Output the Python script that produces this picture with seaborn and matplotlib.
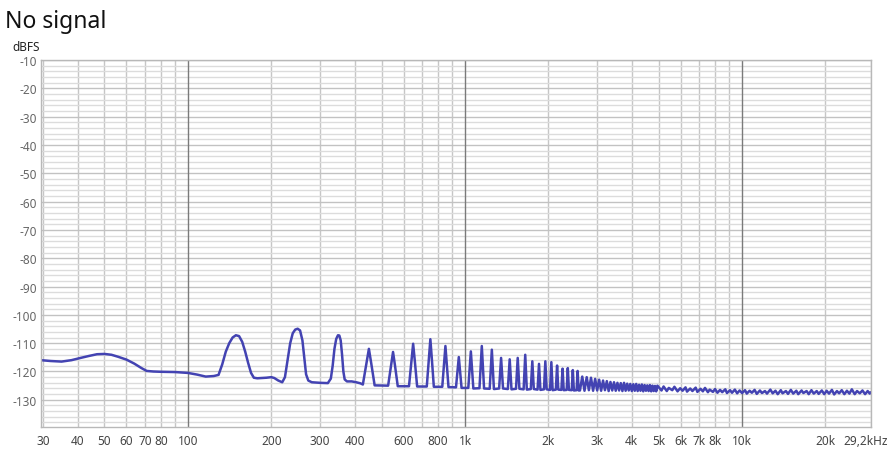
import numpy as np
import matplotlib
matplotlib.use("Agg")
import matplotlib.pyplot as plt
import seaborn as sns

# spectrum (Hz, dBFS)
low_hz = [29.5, 32, 35, 38, 41, 44, 47, 50, 53, 56, 60, 64, 68, 71, 75, 80, 90, 100,
          108, 116, 124, 129, 133, 137, 141, 145, 149, 153, 157, 161, 165, 169, 173,
          178, 185, 192, 200, 205, 212, 219, 224, 229, 234, 239, 244, 249, 254, 259,
          263, 267, 272, 280, 300, 320, 328, 333, 338, 343, 348, 352, 356, 360, 364,
          368, 375, 390, 405, 420]
low_db = [-116.0, -116.3, -116.5, -116.0, -115.2, -114.5, -113.9, -113.8, -114.1, -114.8,
          -115.8, -117.2, -118.8, -119.8, -120.0, -120.1, -120.2, -120.5,
          -121.1, -121.8, -121.6, -121.2, -117.5, -113.0, -110.0, -108.0, -107.2, -107.5,
          -109.5, -113.0, -117.0, -120.5, -122.2,
          -122.4, -122.3, -122.2, -122.0, -122.3, -123.2, -123.8, -122.0, -116.0, -110.0,
          -106.5, -105.2, -104.9, -105.5, -109.0,
          -115.0, -121.0, -123.2, -123.8, -124.0, -124.1, -122.5, -118.0, -112.0, -108.5,
          -107.2, -107.3, -109.0, -114.0, -120.0,
          -122.8, -123.5, -123.5, -123.8, -124.2]

# harmonic comb 450 Hz .. 2.55 kHz (foot, shoulder, top, shoulder, foot)
comb_hz = [428, 441, 450, 459, 472,
           528, 541, 550, 559, 572,
           628, 641, 650, 659, 672,
           728, 741, 750, 759, 772,
           828, 841, 850, 859, 872,
           928, 941, 950, 959, 972,
           1028, 1041, 1050, 1059, 1072,
           1128, 1141, 1150, 1159, 1172,
           1228, 1241, 1250, 1259, 1272,
           1328, 1341, 1350, 1359, 1372,
           1428, 1441, 1450, 1459, 1472,
           1528, 1541, 1550, 1559, 1572,
           1628, 1641, 1650, 1659, 1672,
           1728, 1741, 1750, 1759, 1772,
           1828, 1841, 1850, 1859, 1872,
           1928, 1941, 1950, 1959, 1972,
           2028, 2041, 2050, 2059, 2072,
           2128, 2141, 2150, 2159, 2172,
           2228, 2241, 2250, 2259, 2272,
           2328, 2341, 2350, 2359, 2372,
           2428, 2441, 2450, 2459, 2472,
           2528, 2541, 2550, 2559, 2572]
comb_db = [-124.6, -117.2, -112.0, -117.2, -124.9,
           -125.0, -117.9, -113.1, -117.9, -125.2,
           -125.2, -116.2, -110.2, -116.2, -125.3,
           -125.3, -115.3, -108.6, -115.3, -125.4,
           -125.4, -116.8, -111.0, -116.8, -125.5,
           -125.6, -119.3, -114.9, -119.3, -125.8,
           -125.8, -118.1, -112.9, -118.1, -126.0,
           -125.9, -117.0, -111.0, -117.0, -126.0,
           -126.1, -117.9, -112.3, -117.9, -126.2,
           -126.0, -119.5, -115.2, -119.5, -126.0,
           -126.2, -119.9, -115.7, -119.9, -126.3,
           -126.1, -119.6, -115.2, -119.6, -126.1,
           -126.3, -119.0, -114.1, -119.0, -126.4,
           -126.2, -120.3, -116.4, -120.3, -126.2,
           -126.4, -121.0, -117.3, -121.0, -126.5,
           -126.3, -120.4, -116.4, -120.4, -126.3,
           -126.5, -120.7, -116.7, -120.7, -126.6,
           -126.4, -121.3, -117.9, -121.3, -126.4,
           -126.5, -122.0, -119.0, -122.0, -126.6,
           -126.5, -121.9, -118.8, -121.9, -126.5,
           -126.6, -122.4, -119.5, -122.4, -126.7,
           -126.6, -122.6, -119.8, -122.6, -126.7]

# dense tail of the comb 2.6 .. 5 kHz (trough, top)
tail_hz = [2600, 2650, 2700, 2750, 2800, 2850, 2900, 2950, 3000, 3050, 3100, 3150,
           3200, 3250, 3300, 3350, 3400, 3450, 3500, 3550, 3600, 3650, 3700, 3750,
           3800, 3850, 3900, 3950, 4000, 4050, 4100, 4150, 4200, 4250, 4300, 4350,
           4400, 4450, 4500, 4550, 4600, 4650, 4700, 4750, 4800, 4850, 4900, 4950]
tail_db = [-126.7, -121.8, -126.8, -122.0, -126.6, -122.2, -126.8, -122.6, -126.7, -122.9,
           -126.8, -123.2, -126.6, -123.4, -126.9, -123.7, -126.7, -123.8, -126.8, -124.0,
           -126.7, -124.1, -126.9, -124.0, -126.8, -124.3, -126.7, -124.4, -126.9, -124.5,
           -126.8, -124.4, -126.9, -124.7, -126.8, -124.6, -127.0, -124.8, -126.8, -124.9,
           -126.9, -124.8, -127.0, -125.0, -126.9, -125.1, -127.0, -125.0]

# noise floor 5 kHz .. 29.2 kHz
noise_hz = [5000, 5120, 5210, 5350, 5440,
            5600, 5700, 5850, 5980, 6100,
            6250, 6330, 6500, 6620, 6800,
            6900, 7080, 7220, 7350, 7530,
            7640, 7850, 7990, 8150, 8330,
            8480, 8700, 8820, 9050, 9200,
            9420, 9600, 9800, 10000, 10250,
            10400, 10650, 10850, 11100, 11300,
            11600, 11800, 12100, 12300, 12650,
            12900, 13200, 13450, 13800, 14000,
            14400, 14650, 15000, 15300, 15700,
            15950, 16400, 16650, 17100, 17400,
            17800, 18150, 18600, 18900, 19400,
            19800, 20200, 20600, 21100, 21500,
            22000, 22400, 22900, 23400, 23900,
            24400, 24900, 25500, 26000, 26600,
            27200, 27800, 28400, 28900, 29200]
noise_db = [-125.5, -126.7, -125.3, -126.9, -125.8,
            -126.6, -125.4, -127.0, -125.9, -126.8,
            -125.6, -127.1, -126.0, -126.9, -125.7,
            -127.2, -126.1, -127.0, -125.8, -127.3,
            -126.4, -127.2, -126.2, -127.5, -126.5,
            -127.3, -126.3, -127.6, -126.6, -127.5,
            -126.4, -127.7, -126.7, -127.6, -126.6,
            -127.8, -126.8, -127.5, -126.5, -127.9,
            -126.7, -127.6, -126.9, -127.8, -126.4,
            -127.7, -126.8, -128.0, -126.6, -127.7,
            -126.9, -127.9, -126.5, -127.8, -126.8,
            -128.0, -126.7, -127.6, -126.9, -128.0,
            -126.6, -127.8, -126.9, -127.9, -126.7,
            -128.0, -126.8, -127.8, -126.5, -128.1,
            -126.9, -127.7, -126.6, -128.0, -126.8,
            -127.8, -126.3, -128.0, -126.9, -127.7,
            -126.7, -128.0, -126.9, -127.8, -127.3]

minor_hz = [30, 40, 50, 60, 70, 80, 90, 200, 300, 400, 500, 600, 700, 800, 900,
            2000, 3000, 4000, 5000, 6000, 7000, 8000, 9000, 20000, 29200]
minor_labels = ["30", "40", "50", "60", "70", "80", "", "200", "300", "400", "", "600", "",
                "800", "", "2k", "3k", "4k", "5k", "6k", "7k", "8k", "", "20k", ""]
major_hz = [100, 1000, 10000]
major_labels = ["100", "1k", "10k"]
y_major = list(range(-130, -9, 10))
y_minor = [v for v in range(-138, -9, 2) if v % 10 != 0]

hz = low_hz + comb_hz + tail_hz + noise_hz
db = low_db + comb_db + tail_db + noise_db

sns.set_theme(style="white")
plt.rcParams["font.family"] = ["Noto Sans", "DejaVu Sans"]

fig = plt.figure(figsize=(8.91, 4.52), dpi=100)
ax = fig.add_axes([41 / 891, 1 - 428 / 452, 830 / 891, 367 / 452])

sns.lineplot(x=hz, y=db, sort=False, estimator=None, color="#4343b2", lw=1.8, ax=ax)

ax.set_xscale("log")
ax.set_xlim(29.5, 29200)
ax.set_ylim(-139.6, -10)

ax.set_xticks(major_hz)
ax.set_xticklabels(major_labels)
ax.set_xticks(minor_hz, minor=True)
ax.set_xticklabels(minor_labels, minor=True)
ax.set_yticks(y_major)
ax.set_yticklabels([str(v) for v in y_major])
ax.set_yticks(y_minor, minor=True)

ax.xaxis.grid(True, which="minor", color="#c6c6c6", lw=1.0)
ax.yaxis.grid(True, which="major", color="#c2c2c2", lw=1.0)
ax.yaxis.grid(True, which="minor", color="#dcdcdc", lw=1.0)
ax.set_axisbelow(True)
for f in major_hz:
    ax.axvline(f, color="#7a7a7a", lw=1.0, zorder=0.9)

ax.tick_params(axis="both", which="both", length=0, labelsize=8.5, colors="#444444")
ax.tick_params(axis="x", which="both", pad=5)
ax.tick_params(axis="y", which="both", pad=3, colors="#666666")
for s in ax.spines.values():
    s.set_color("#b8b8b8")
    s.set_linewidth(1.0)
ax.set_xlabel("")
ax.set_ylabel("")

# right-end label sits a bit inside so it stays on the canvas
ax.annotate("29,2kHz", xy=(0.994, 0), xycoords="axes fraction", xytext=(0, -5),
            textcoords="offset points", ha="center", va="top",
            fontsize=8.5, color="#444444")

fig.text(5 / 891, 1 - 22 / 452, "No signal", fontsize=16.5, color="#111111", va="center")
fig.text(12 / 891, 1 - 48 / 452, "dBFS", fontsize=8.5, color="#222222", va="center")

fig.savefig("out.png", dpi=100)
